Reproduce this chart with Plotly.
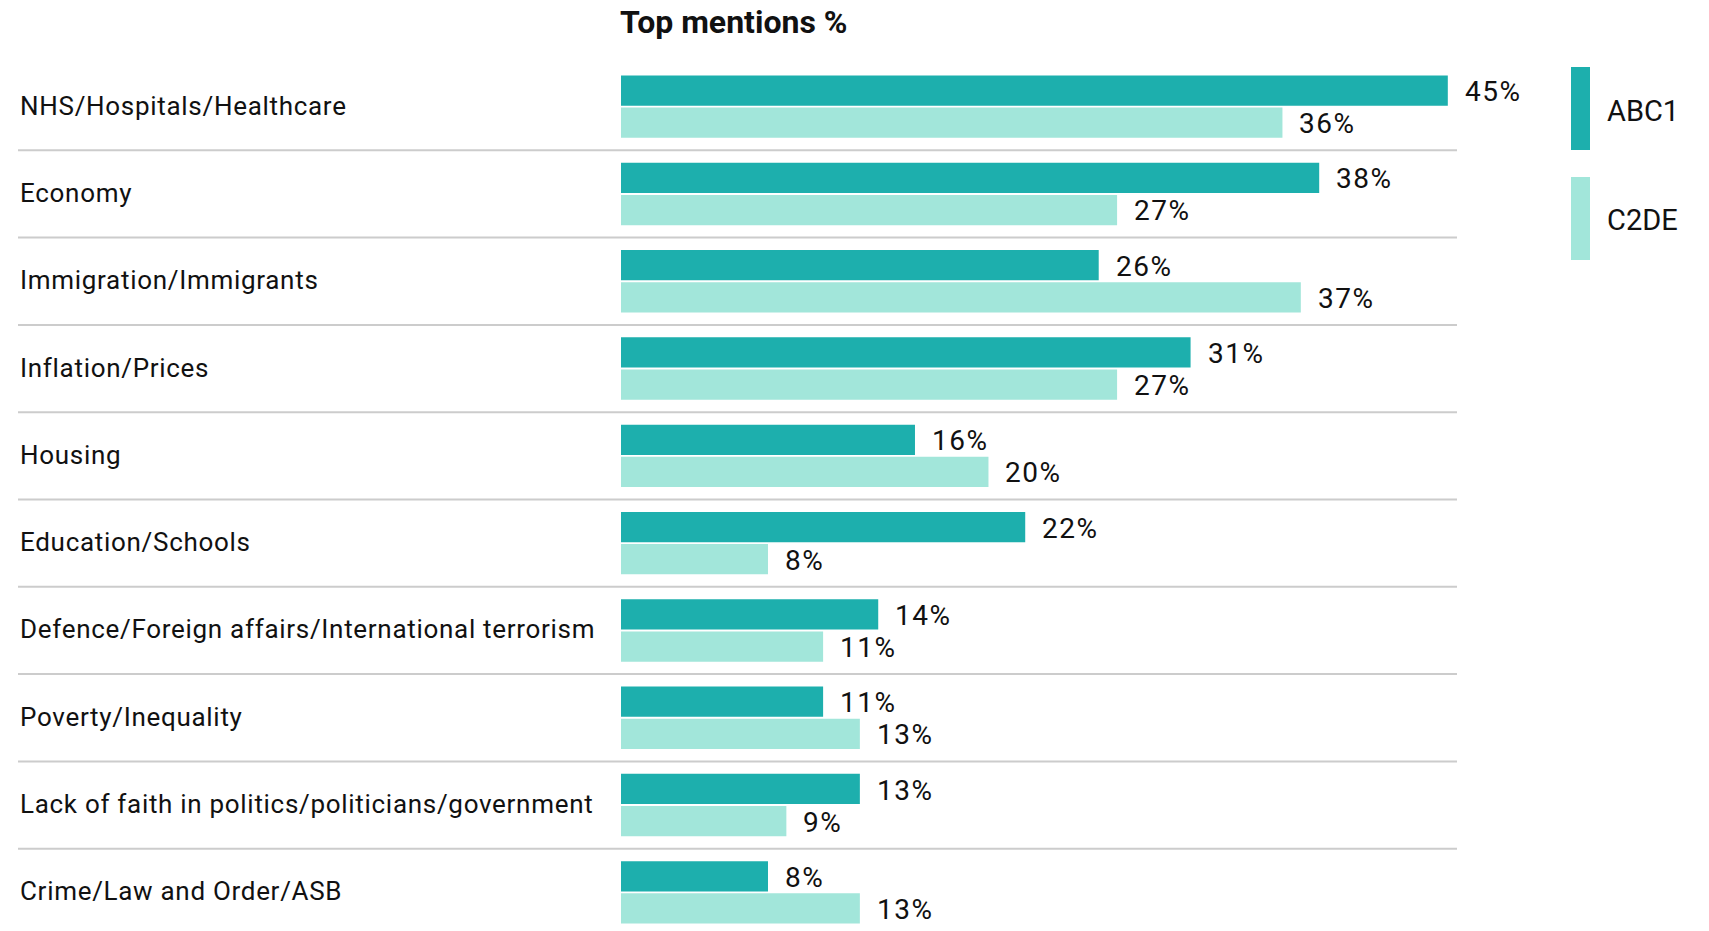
import plotly.graph_objects as go

categories = [
    "NHS/Hospitals/Healthcare",
    "Economy",
    "Immigration/Immigrants",
    "Inflation/Prices",
    "Housing",
    "Education/Schools",
    "Defence/Foreign affairs/International terrorism",
    "Poverty/Inequality",
    "Lack of faith in politics/politicians/government",
    "Crime/Law and Order/ASB",
]
abc1 = [45, 38, 26, 31, 16, 22, 14, 11, 13, 8]
c2de = [36, 27, 37, 27, 20, 8, 11, 13, 9, 13]
series_names = ["ABC1", "C2DE"]
colors = ["#1dafad", "#a2e6da"]
title_text = "Top mentions %"

W, H = 1709, 931
L, R_EDGE, T = 621, 1457, 63
plot_w = R_EDGE - L
plot_h = H - T

fig = go.Figure()
for name, vals, col in zip(series_names, [abc1, c2de], colors):
    fig.add_trace(go.Bar(
        y=categories, x=vals, name=name, orientation="h",
        marker=dict(color=col, line=dict(width=0)),
        hoverinfo="x+y",
    ))

FONT = "Roboto, 'Noto Sans', sans-serif"


def spaced(s, px):
    return f'<span style="letter-spacing:{px}px">{s}</span>'


annotations = []
# value labels
for vals, ysh in [(abc1, 15), (c2de, -17)]:
    for c, v in zip(categories, vals):
        annotations.append(dict(
            x=v, y=c, xref="x", yref="y", text=spaced(f"{v}%", 1.5), showarrow=False,
            xanchor="left", yanchor="middle", xshift=15, yshift=ysh,
            font=dict(family=FONT, size=28, color="#111111"),
        ))
# category labels
for c in categories:
    annotations.append(dict(
        x=(18 - L) / plot_w, y=c, xref="paper", yref="y", text=spaced(c, 0.7), showarrow=False,
        xanchor="left", yanchor="middle", yshift=1,
        font=dict(family=FONT, size=26, color="#111111"),
    ))
# title
annotations.append(dict(
    x=0, y=1 + (T - 22) / plot_h, xref="paper", yref="paper", text="<b>" + title_text + "</b>",
    showarrow=False, xanchor="left", yanchor="middle", xshift=-3,
    font=dict(family=FONT, size=32, color="#111111"),
))


def px_x(p):
    return (p - L) / plot_w


def px_y(p):
    return 1 - (p - T) / plot_h


shapes = []
# row separators
for i in range(len(categories) - 1):
    shapes.append(dict(
        type="line", xref="paper", yref="y", x0=px_x(18), x1=1,
        y0=i + 0.5, y1=i + 0.5, line=dict(color="#cccccc", width=2), layer="below",
    ))
# legend swatches + labels
leg_y = [(67, 150), (177, 260)]
for (y0, y1), name, col in zip(leg_y, series_names, colors):
    shapes.append(dict(
        type="rect", xref="paper", yref="paper", x0=px_x(1571), x1=px_x(1590),
        y0=px_y(y1), y1=px_y(y0), fillcolor=col, line=dict(width=0),
    ))
    annotations.append(dict(
        x=px_x(1605), y=px_y((y0 + y1) / 2 + 2), xref="paper", yref="paper", text=name,
        showarrow=False, xanchor="left", yanchor="middle",
        font=dict(family=FONT, size=29, color="#111111"),
    ))

n = len(categories)
fig.update_layout(
    width=W, height=H, autosize=False,
    margin=dict(l=L, r=W - R_EDGE, t=T, b=0, pad=0),
    paper_bgcolor="white", plot_bgcolor="white",
    barmode="group", bargap=0.263, bargroupgap=0.06,
    showlegend=False,
    xaxis=dict(range=[0, 45.5], visible=False, fixedrange=True),
    yaxis=dict(range=[n - 1 + 0.5 - 5 / 87.3, -0.5], visible=False, fixedrange=True,
               categoryorder="array", categoryarray=categories),
    annotations=annotations, shapes=shapes,
    font=dict(family=FONT),
)

fig.write_html(
    "out.html",
    config={"displayModeBar": False},
    post_script="document.body.style.margin='0';document.body.style.overflow='hidden';",
)
